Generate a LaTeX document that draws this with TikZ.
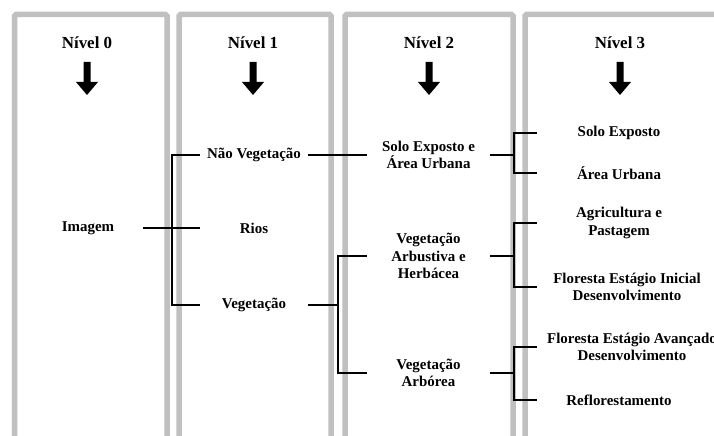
\documentclass[tikz,border=0pt]{standalone}
\usepackage{fontspec}
\setmainfont{Liberation Serif}
\usetikzlibrary{calc}
\definecolor{PanelClr}{RGB}{192,192,192}

\tikzset{
  panel/.style={draw=PanelClr,line width=5.5bp,rounded corners=1.5bp},
  title/.style={font=\bfseries\fontsize{17}{20}\selectfont,inner sep=0pt},
  lvl/.style={font=\bfseries\fontsize{15}{17.5}\selectfont,align=center,inner sep=0pt,minimum height=18bp},
  lvlA/.style={lvl,minimum width=110bp},
  lvlB/.style={lvl,minimum width=108bp},
  lvlC/.style={lvl,minimum width=123bp},
  lvlD/.style={lvl,minimum width=164bp},
  link/.style={line width=1.4bp,black},
}

\begin{document}
\begin{tikzpicture}[x=1bp,y=-1bp]
\useasboundingbox (0,0) rectangle (714,436);

% panels
\foreach \l/\r in {14.5/167,179/331,345/513,525/722}
  \draw[panel] (\l,445) -- (\l,14.5) -- (\r,14.5) -- (\r,445);

% titles and arrows
\foreach \cx/\n in {87/0,253/1,429/2,620/3} {
  \node[title] (t\n) at (\cx,43) {Nível \n};
  \fill (\cx-3.5,62) -- (\cx+3.5,62) -- (\cx+3.5,82) -- (\cx+11,82)
    -- (\cx,95) -- (\cx-11,82) -- (\cx-3.5,82) -- cycle;
}

% level 0
\node[lvlA] (img) at (88,228) {Imagem};

% level 1
\node[lvlB] (nveg) at (254,155) {Não Vegetação};
\node[lvlB] (rios) at (254,228) {Rios};
\node[lvlB] (veg) at (254,305) {Vegetação};

% level 2
\node[lvlC] (solo) at (428.5,155) {Solo Exposto e\\Área Urbana};
\node[lvlC] (arbu) at (428.5,256) {Vegetação\\Arbustiva e\\Herbácea};
\node[lvlC] (arbo) at (428.5,373) {Vegetação\\Arbórea};

% level 3
\node[lvlD] (se) at (619,133) {Solo Exposto};
\node[lvlD] (au) at (619,173) {Área Urbana};
\node[lvlD] (agr) at (619,223) {Agricultura e\\Pastagem};
\node[lvlD,minimum width=180bp] (fini) at (627,287) {Floresta Estágio Inicial\\Desenvolvimento};
\node[lvlD,minimum width=190bp] (fava) at (632,347) {Floresta Estágio Avançado\\Desenvolvimento};
\node[lvlD] (refl) at (619,400) {Reflorestamento};

% bracket spines
\coordinate (sp1) at (172,0);
\coordinate (sp2) at (338,0);
\coordinate (sp3) at (514,0);

% connectors
\draw[link] (img.east) -- (img.east -| sp1);
\draw[link] (nveg.west) -- (nveg.west -| sp1) |- (veg.west);
\draw[link] (rios.west) -- (rios.west -| sp1);

\draw[link] (nveg.east) -- (solo.west);
\draw[link] (veg.east) -- (veg.east -| sp2);
\draw[link] (arbu.west) -- (arbu.west -| sp2) |- (arbo.west);

\draw[link] (solo.east) -- (solo.east -| sp3);
\draw[link] (se.west) -- (se.west -| sp3) |- (au.west);
\draw[link] (arbu.east) -- (arbu.east -| sp3);
\draw[link] (agr.west) -- (agr.west -| sp3) |- (fini.west);
\draw[link] (arbo.east) -- (arbo.east -| sp3);
\draw[link] (fava.west) -- (fava.west -| sp3) |- (refl.west);

\end{tikzpicture}
\end{document}
